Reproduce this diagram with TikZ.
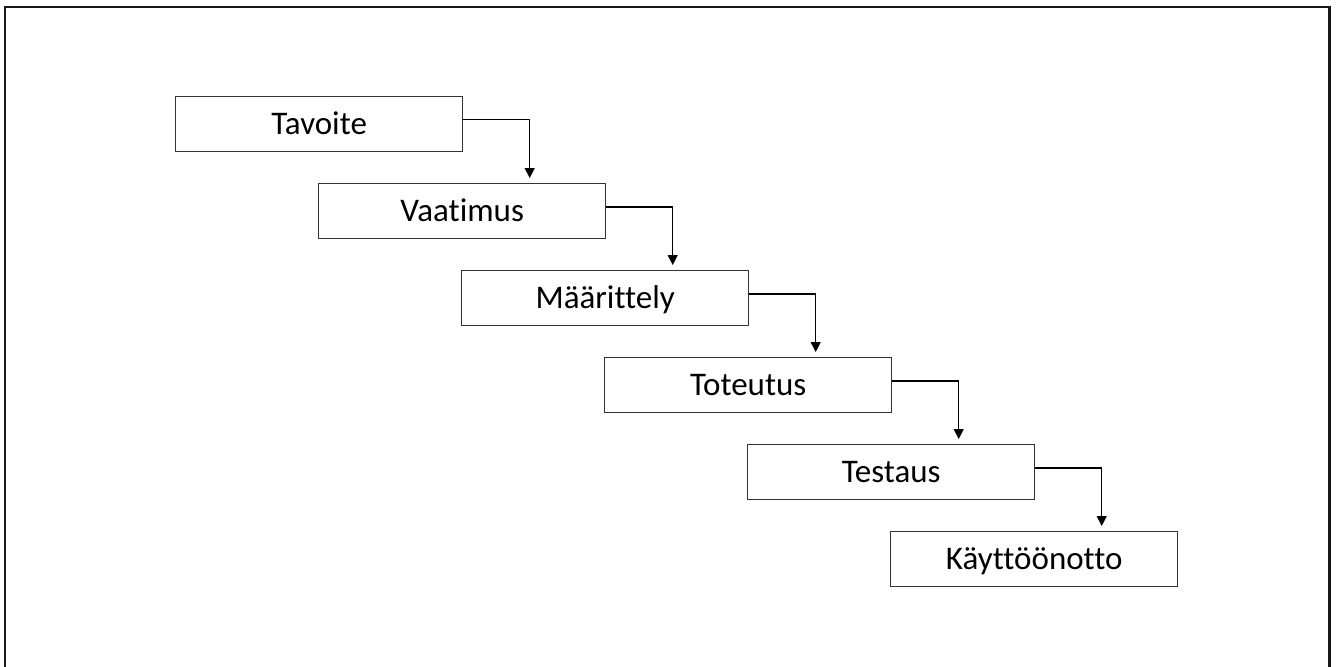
\documentclass[tikz,border=0pt]{standalone}
\usepackage{fontspec}
\setmainfont[Ligatures={NoCommon}]{Carlito}
\usetikzlibrary{arrows.meta}
\begin{document}
\begin{tikzpicture}[x=1pt, y=-1pt,
  stage/.style={draw=black!80, line width=1.4pt, fill=white,
    minimum width=287pt, minimum height=54.5pt, inner sep=0pt,
    text height=21pt, text depth=0pt, anchor=north west,
    font=\fontsize{33}{38}\selectfont},
  conn/.style={draw=black, line width=1.1pt,
    -{Triangle[width=10pt,length=10pt]}}]
  \useasboundingbox (0,0) rectangle (1337,666);
  \fill[white] (0,0) rectangle (1337,666);
  % frame (its lower edge lies below the page)
  \draw[line width=2.2pt, black!90] (5,7) rectangle (1329.5,690);

  \node[stage] (s1) at (175,96)  {Tavoite};
  \node[stage] (s2) at (318,183) {Vaatimus};
  \node[stage] (s3) at (461,270) {Määrittely};
  \node[stage] (s4) at (604,357) {Toteutus};
  \node[stage] (s5) at (747,444) {Testaus};
  \node[stage] (s6) at (890,531) {Käyttöönotto};

  \foreach \a/\b in {s1/s2, s2/s3, s3/s4, s4/s5, s5/s6}
    \draw[conn] ([yshift=4pt]\a.east) -| ([xshift=67.5pt,yshift=5pt]\b.north);
\end{tikzpicture}
\end{document}
